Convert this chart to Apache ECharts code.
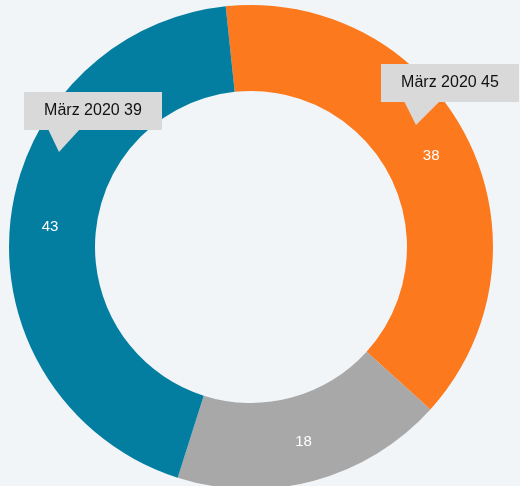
<!DOCTYPE html>
<html>
<head>
<meta charset="utf-8">
<script src="https://cdn.jsdelivr.net/npm/echarts@6/dist/echarts.min.js"></script>
<style>
  html, body { margin: 0; padding: 0; background: #f2f5f8; }
  #main { width: 520px; height: 486px; }
</style>
</head>
<body>
<div id="main"></div>
<script>
var categories = ['A', 'B', 'C'];
var values = [38, 18, 43];
var colors = ['#fd791e', '#a8a8a8', '#037ea1'];
var calloutTexts = ['März 2020 39', 'März 2020 45'];

var chartDom = document.getElementById('main');
var myChart = echarts.init(chartDom);

function callout(text, x, y, tipX, tipY, baseL, baseR) {
  return {
    type: 'group',
    z: 100,
    children: [
      {
        type: 'polygon',
        z: 100,
        shape: { points: [[baseL, y + 37], [baseR, y + 37], [tipX, tipY]] },
        style: { fill: '#d9d9d9' }
      },
      {
        type: 'rect',
        z: 100,
        shape: { x: x, y: y, width: 138, height: 38 },
        style: { fill: '#d9d9d9' }
      },
      {
        type: 'text',
        z: 101,
        x: x + 69,
        y: y + 19,
        style: {
          text: text,
          fill: '#111',
          font: '16px "Liberation Sans", Arial, sans-serif',
          align: 'center',
          verticalAlign: 'middle'
        }
      }
    ]
  };
}

var option = {
  backgroundColor: '#f2f5f8',
  animation: false,
  series: [
    {
      type: 'pie',
      center: [251, 247],
      radius: [156, 242],
      startAngle: 96,
      clockwise: true,
      avoidLabelOverlap: false,
      label: {
        show: true,
        position: 'inside',
        color: '#fff',
        fontSize: 15,
        fontFamily: '"Liberation Sans", Arial, sans-serif',
        formatter: '{c}'
      },
      labelLine: { show: false },
      itemStyle: { borderWidth: 0 },
      emphasis: { disabled: true },
      data: categories.map(function (c, i) {
        return { name: c, value: values[i], itemStyle: { color: colors[i] } };
      })
    }
  ],
  graphic: [
    callout(calloutTexts[0], 24, 92, 59, 152, 48, 80),
    callout(calloutTexts[1], 381, 64, 416, 125, 404, 440)
  ]
};
option && myChart.setOption(option);
</script>
</body>
</html>
